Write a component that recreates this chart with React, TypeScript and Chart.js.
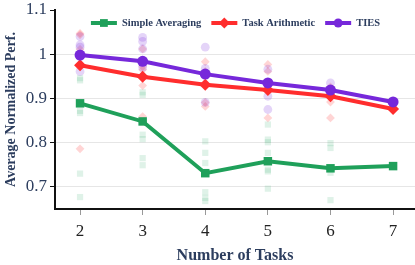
import React, { useEffect, useRef } from "react";
import { Chart, registerables } from "chart.js";

Chart.register(...registerables);

const taskCounts = [2, 3, 4, 5, 6, 7];
const simpleAvg = [0.889, 0.848, 0.731, 0.758, 0.742, 0.747];
const taskArith = [0.975, 0.949, 0.931, 0.919, 0.905, 0.876];
const ties = [0.998, 0.984, 0.955, 0.935, 0.919, 0.892];

// individual runs (faint points): [numTasks, value]
const simpleAvgRuns: [number, number][] = [
  [2, 0.946], [2, 0.941], [2, 0.872], [2, 0.867], [2, 0.73], [2, 0.677],
  [3, 0.914], [3, 0.908], [3, 0.818], [3, 0.808], [3, 0.765], [3, 0.749],
  [4, 0.803], [4, 0.777], [4, 0.754], [4, 0.688], [4, 0.675], [4, 0.668],
  [5, 0.841], [5, 0.807], [5, 0.801], [5, 0.777], [5, 0.739], [5, 0.735], [5, 0.696],
  [6, 0.799], [6, 0.788], [6, 0.732], [6, 0.67],
];
const taskArithRuns: [number, number][] = [
  [2, 1.047], [2, 1.044], [2, 1.011], [2, 0.786],
  [3, 1.012], [3, 0.972], [3, 0.965], [3, 0.929], [3, 0.859],
  [4, 0.983], [4, 0.961], [4, 0.891], [4, 0.882],
  [5, 0.977], [5, 0.961], [5, 0.856],
  [6, 0.926], [6, 0.892], [6, 0.856],
];
const tiesRuns: [number, number][] = [
  [2, 1.04], [2, 1.021], [2, 1.016], [2, 0.961],
  [3, 1.038], [3, 1.029], [3, 1.012], [3, 0.97],
  [4, 1.016], [4, 0.968], [4, 0.891],
  [5, 0.966], [5, 0.905], [5, 0.875],
  [6, 0.935],
];
const yTicks = [0.7, 0.8, 0.9, 1.0, 1.1];

const GREEN = "rgb(31,160,90)";
const RED = "rgb(255,45,45)";
const PURPLE = "rgb(118,40,218)";
const NAVY = "#2c3d5e";

const methods = [
  { label: "Simple Averaging", color: GREEN, style: "rect", radius: 6 },
  { label: "Task Arithmetic", color: RED, style: "rectRot", radius: 6 },
  { label: "TIES", color: PURPLE, style: "circle", radius: 5.5 },
];

function marker(ctx: CanvasRenderingContext2D, style: string, x: number, y: number, r: number) {
  ctx.beginPath();
  if (style === "rect") {
    const s = Math.SQRT1_2 * r;
    ctx.rect(x - s, y - s, 2 * s, 2 * s);
  } else if (style === "rectRot") {
    ctx.moveTo(x, y - r);
    ctx.lineTo(x + r, y);
    ctx.lineTo(x, y + r);
    ctx.lineTo(x - r, y);
    ctx.closePath();
  } else {
    ctx.arc(x, y, r, 0, Math.PI * 2);
  }
  ctx.fill();
}

const legendPlugin = {
  id: "customLegend",
  afterDatasetsDraw(chart: any) {
    const ctx = chart.ctx as CanvasRenderingContext2D;
    ctx.save();
    ctx.font = "bold 10.5px 'Liberation Serif'";
    const lineLen = 26;
    const gapText = 5;
    const gapItem = 10;
    const widths = methods.map((m) => ctx.measureText(m.label).width);
    const total =
      widths.reduce((a, b) => a + b, 0) + methods.length * (lineLen + gapText) + (methods.length - 1) * gapItem;
    let x = 235.5 - total / 2;
    const y = 23;
    methods.forEach((m, i) => {
      ctx.strokeStyle = m.color;
      ctx.fillStyle = m.color;
      ctx.lineWidth = 4;
      ctx.beginPath();
      ctx.moveTo(x, y);
      ctx.lineTo(x + lineLen, y);
      ctx.stroke();
      marker(ctx, m.style, x + lineLen / 2, y, m.style === "circle" ? 4.5 : 5.5);
      x += lineLen + gapText;
      ctx.fillStyle = NAVY;
      ctx.textBaseline = "middle";
      ctx.textAlign = "left";
      ctx.fillText(m.label, x, y + 0.5);
      x += widths[i] + gapItem;
    });
    ctx.restore();
  },
};

function fade(c: string, a: number) {
  return c.replace("rgb(", "rgba(").replace(")", `,${a})`);
}

export default function App() {
  const ref = useRef<HTMLCanvasElement | null>(null);
  useEffect(() => {
    document.body.style.margin = "0";
    const mains = [ties, taskArith, simpleAvg];
    const runs = [tiesRuns, taskArithRuns, simpleAvgRuns];
    const ms = [methods[2], methods[1], methods[0]];
    const lineSets = ms.map((m, i) => ({
      type: "line",
      label: m.label,
      data: taskCounts.map((t, j) => ({ x: t, y: mains[i][j] })),
      borderColor: m.color,
      backgroundColor: m.color,
      borderWidth: 4,
      pointStyle: m.style,
      pointRadius: m.radius,
      pointBorderWidth: 0,
      order: 0,
    }));
    const runSets = ms.map((m, i) => ({
      type: "scatter",
      label: m.label + " runs",
      data: runs[i].map(([t, v]) => ({ x: t, y: v })),
      backgroundColor: fade(m.color, m.style === "rect" ? 0.14 : 0.2),
      borderWidth: 0,
      pointStyle: m.style,
      pointRadius: 4.4,
      showLine: false,
      order: 1,
    }));
    const chart = new Chart(ref.current!, {
      type: "line",
      data: { datasets: [...lineSets, ...runSets] as any },
      options: {
        animation: false,
        responsive: false,
        layout: { autoPadding: false, padding: { top: 10, right: 0, left: 0, bottom: 0 } },
        plugins: { legend: { display: false }, tooltip: { enabled: false } },
        scales: {
          x: {
            type: "linear",
            min: 1.6,
            max: 7.35,
            afterBuildTicks: (s: any) => {
              s.ticks = taskCounts.map((v) => ({ value: v }));
            },
            afterFit: (s: any) => {
              s.height = 56;
              s.paddingLeft = 0;
              s.paddingRight = 0;
            },
            border: { color: "#111", width: 2 },
            grid: { drawOnChartArea: false, tickLength: 6, tickColor: "#999" },
            ticks: {
              color: "#222",
              font: { family: "'Liberation Serif'", size: 17 },
              padding: 6,
              callback: (v: any) => String(v),
            },
            title: {
              display: true,
              text: "Number of Tasks",
              color: NAVY,
              font: { family: "'Liberation Serif'", size: 16, weight: "bold" },
              padding: { top: 2, bottom: 0 },
            },
          },
          y: {
            type: "linear",
            min: 0.65,
            max: 1.1,
            afterBuildTicks: (s: any) => {
              s.ticks = yTicks.map((v) => ({ value: v }));
            },
            afterFit: (s: any) => {
              s.width = 55;
              s.paddingTop = 0;
              s.paddingBottom = 0;
            },
            border: { color: "#111", width: 2 },
            grid: {
              color: (c: any) => (c.tick && c.tick.value > 1.05 ? "rgba(0,0,0,0)" : "#e6e6e6"),
              lineWidth: 1,
              tickLength: 5,
              tickColor: "#111",
            },
            ticks: {
              color: NAVY,
              font: { family: "'Liberation Serif'", size: 17 },
              padding: 3,
              callback: (v: any) => String(Number(Number(v).toFixed(2))),
            },
            title: {
              display: true,
              text: "Average Normalized Perf.",
              color: NAVY,
              font: { family: "'Liberation Serif'", size: 14, weight: "bold" },
              padding: { top: 3, bottom: 0 },
            },
          },
        },
      },
      plugins: [legendPlugin],
    } as any);
    return () => chart.destroy();
  }, []);
  return <canvas ref={ref} width={415} height={265} style={{ display: "block" }} />;
}
